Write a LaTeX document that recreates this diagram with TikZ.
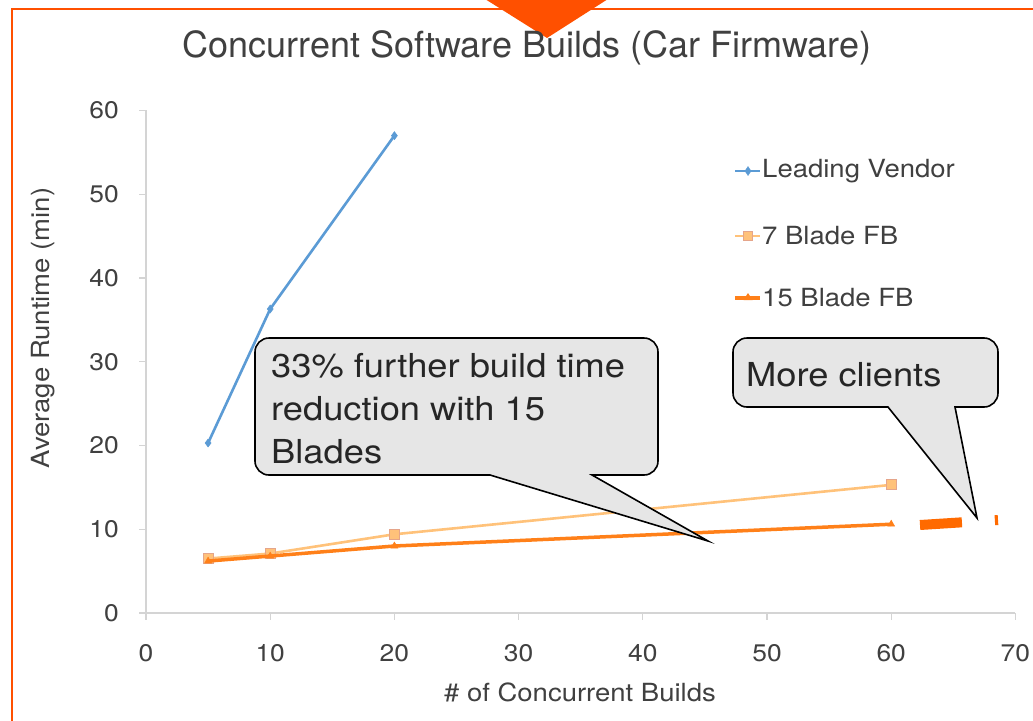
\documentclass[tikz,border=0pt]{standalone}
\usepackage{fontspec}
\setmainfont[FakeStretch=1.1]{TeX Gyre Heros}
\newfontfamily\titlefont{TeX Gyre Heros}
\usetikzlibrary{plotmarks}
\definecolor{bord}{HTML}{FF5000}
\definecolor{vend}{HTML}{5B9BD5}
\definecolor{seven}{HTML}{FFC27A}
\definecolor{sevenedge}{HTML}{E5A58A}
\definecolor{fifteen}{HTML}{FF8019}
\definecolor{dashc}{HTML}{FF6A00}
\definecolor{txt}{HTML}{404040}
\definecolor{axisc}{HTML}{D4D4D4}
\definecolor{callfill}{HTML}{E6E6E6}
\begin{document}
\begin{tikzpicture}[x=1pt,y=-1pt,
  ticklab/.style={text=txt,font=\fontsize{24}{28}\selectfont,inner sep=0pt},
  legtext/.style={text=txt,font=\fontsize{25}{29}\selectfont,anchor=west,inner sep=0pt},
  calltext/.style={text=black!85,font=\fontsize{33}{43}\selectfont,anchor=base west,inner sep=0pt},
  callbox/.style={draw=black,fill=callfill,line width=1.6pt,line join=miter},
  vendline/.style={draw=vend,line width=2.6pt},
  sevenline/.style={draw=seven,line width=2.6pt},
  fifteenline/.style={draw=fifteen,line width=3.5pt},
]
\useasboundingbox (0,0) rectangle (1033,720);
\fill[white] (0,0) rectangle (1033,720);
% frame
\draw[bord,line width=2.5pt] (12,721) -- (12,9) -- (1034,9);
\fill[bord] (485,-1) -- (608,-1) -- (547,38) -- cycle;
% title
\node[text=txt,font=\titlefont\fontsize{36}{40}\selectfont] (title) at (527,48) {Concurrent Software Builds (Car Firmware)};
% axes
\draw[axisc,line width=1.3pt] (146,110) -- (146,613) -- (1015,613);
\foreach \v [count=\i from 0] in {0,10,...,60}{
  \draw[axisc,line width=1.3pt] (139,613-8.375*\v) -- (146,613-8.375*\v);
  \node[ticklab,anchor=east] (yl\i) at (119,613-8.375*\v) {\v};
}
\foreach \v [count=\i from 0] in {0,10,...,70}{
  \draw[axisc,line width=1.3pt] (146+12.42*\v,613) -- (146+12.42*\v,620);
  \node[ticklab] (xl\i) at (146+12.42*\v,653) {\v};
}
\node[text=txt,font=\fontsize{25}{29}\selectfont] (xtitle) at (580,692) {\# of Concurrent Builds};
\node[text=txt,font=\fontsize{25}{29}\selectfont,rotate=90] (ytitle) at (43,328) {Average Runtime (min)};
% data
\begin{scope}[shift={(146,613)},x=12.42pt,y=8.375pt]
  \draw[sevenline] plot[mark=square*,mark size=5pt,mark options={fill=seven,draw=sevenedge,line width=1.2pt}] coordinates {(5,6.5) (10,7.1) (20,9.4) (60,15.3)};
  \draw[fifteenline] plot[mark=triangle*,mark size=4pt,mark options={fill=fifteen,draw=fifteen,line width=0.5pt}] coordinates {(5,6.2) (10,6.8) (20,8) (60,10.6)};
  \draw[vendline] plot[mark=diamond*,mark size=4pt,mark options={fill=vend,draw=vend,line width=0.5pt}] coordinates {(5,20.3) (10,36.3) (20,57)};
\end{scope}
% legend
\draw[vendline] (735,171) -- (760,171);
\draw[vend,fill=vend] (748,166.5) -- (751,171) -- (748,175.5) -- (745,171) -- cycle;
\node[legtext] (leg1) at (762,171) {Leading Vendor};
\draw[sevenline] (735,236) -- (760,236);
\node[draw=sevenedge,fill=seven,line width=1pt,minimum size=9pt,inner sep=0pt] (m2) at (748,236) {};
\node[legtext] (leg2) at (762,236) {7 Blade FB};
\draw[fifteenline] (735,298) -- (760,298);
\fill[fifteen] (748,293) -- (752.5,300) -- (743.5,300) -- cycle;
\node[legtext] (leg3) at (762,298) {15 Blade FB};
% extension dashes
\draw[dashc,line width=10pt,dash pattern=on 42pt off 33pt] (920,525) -- (998,520);
% callout 1
\path[callbox] (269,338) -- (644,338) [rounded corners=14pt] -- (658,338) -- (658,475) [sharp corners] -- (592,475) -- (708,541) -- (490,475) [rounded corners=14pt] -- (255,475) -- (255,338) -- (270,338);
\node[calltext] (c1a) at (271,377) {33\% further build time};
\node[calltext] (c1b) at (271,420) {reduction with 15};
\node[calltext] (c1c) at (271,463) {Blades};
% callout 2
\path[callbox] (747,338) -- (984,338) [rounded corners=14pt] -- (998,338) -- (998,407) [sharp corners] -- (955,407) -- (977,518) -- (888,407) [rounded corners=14pt] -- (733,407) -- (733,338) -- (748,338);
\node[calltext] (c2) at (746,386) {More clients};
\end{tikzpicture}
\end{document}
